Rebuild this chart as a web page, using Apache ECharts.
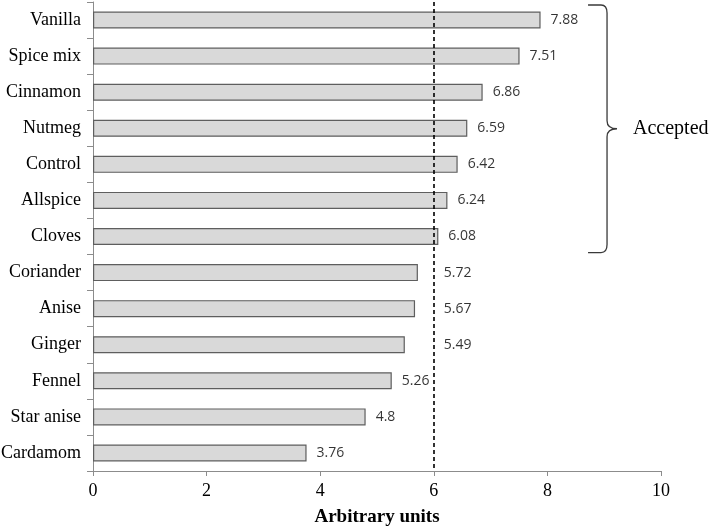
<!DOCTYPE html>
<html>
<head>
<meta charset="utf-8">
<script src="https://cdn.jsdelivr.net/npm/echarts@6/dist/echarts.min.js"></script>
<style>
html, body { margin: 0; padding: 0; background: #fff; }
#main { width: 709px; height: 528px; }
</style>
</head>
<body>
<div id="main"></div>
<script>
// 类别 (top to bottom)
var categories = ['Vanilla', 'Spice mix', 'Cinnamon', 'Nutmeg', 'Control', 'Allspice', 'Cloves',
    'Coriander', 'Anise', 'Ginger', 'Fennel', 'Star anise', 'Cardamom'];
var values = [7.88, 7.51, 6.86, 6.59, 6.42, 6.24, 6.08, 5.72, 5.67, 5.49, 5.26, 4.8, 3.76];
var xTicks = [0, 2, 4, 6, 8, 10];
var cutoff = 6;
var acceptedFrom = 'Vanilla';
var acceptedTo = 'Cloves';
var acceptedText = 'Accepted';

var myChart = echarts.init(document.getElementById('main'));

// labels that would hit the dashed line are moved just past it
var labelData = [];
for (var i = 0; i < values.length; i++) {
    var lx = values[i];
    if (lx < cutoff && lx > cutoff - 0.6) lx = cutoff;
    labelData.push([lx, categories[i]]);
}

var braceData = [[9.05, categories.indexOf(acceptedFrom), categories.indexOf(acceptedTo)]];

function renderBrace(params, api) {
    var top = api.coord([api.value(0), api.value(1)]);
    var bot = api.coord([api.value(0), api.value(2)]);
    var half = api.size([0, 1])[1] / 2;
    var x1 = top[0];
    var t = top[1] - half + 3;
    var b = bot[1] + half - 2;
    var m = (t + b) / 2;
    var x0 = x1 - 19;
    var x2 = x1 + 10;
    var r = 8;
    var path = 'M' + x0 + ' ' + t +
        ' L' + (x1 - 6) + ' ' + t +
        ' Q' + x1 + ' ' + t + ' ' + x1 + ' ' + (t + r) +
        ' L' + x1 + ' ' + (m - r) +
        ' Q' + x1 + ' ' + m + ' ' + x2 + ' ' + m +
        ' Q' + x1 + ' ' + m + ' ' + x1 + ' ' + (m + r) +
        ' L' + x1 + ' ' + (b - r) +
        ' Q' + x1 + ' ' + b + ' ' + (x1 - 6) + ' ' + b +
        ' L' + x0 + ' ' + b;
    return {
        type: 'group',
        children: [
            {
                type: 'path',
                shape: { pathData: path },
                style: { fill: 'none', stroke: '#3a3a3a', lineWidth: 1.3 }
            },
            {
                type: 'text',
                x: x2 + 16,
                y: m,
                style: {
                    text: acceptedText,
                    fill: '#000',
                    font: '20px "Liberation Serif"',
                    verticalAlign: 'middle',
                    align: 'left'
                }
            }
        ]
    };
}

var option = {
    animation: false,
    grid: {
        left: 93,
        right: 48,
        top: 2,
        bottom: 57,
        containLabel: false,
        outerBoundsMode: 'none'
    },
    xAxis: {
        type: 'value',
        min: xTicks[0],
        max: xTicks[xTicks.length - 1],
        interval: xTicks[1] - xTicks[0],
        name: 'Arbitrary units',
        nameLocation: 'middle',
        nameGap: 37,
        nameTextStyle: {
            fontFamily: 'Liberation Serif',
            fontWeight: 'bold',
            fontSize: 19,
            color: '#000'
        },
        splitLine: { show: false },
        axisLine: { show: true, lineStyle: { color: '#8c8c8c', width: 1 } },
        axisTick: { show: true, length: 5, lineStyle: { color: '#8c8c8c' } },
        axisLabel: {
            margin: 11,
            fontFamily: 'Liberation Serif',
            fontSize: 18,
            color: '#000'
        }
    },
    yAxis: {
        type: 'category',
        inverse: true,
        data: categories,
        axisLine: { show: true, lineStyle: { color: '#8c8c8c', width: 1 } },
        axisTick: { show: true, length: 6, lineStyle: { color: '#8c8c8c' } },
        axisLabel: {
            margin: 12,
            fontFamily: 'Liberation Serif',
            fontSize: 18,
            color: '#000'
        }
    },
    series: [
        {
            type: 'bar',
            data: values,
            barWidth: 17,
            itemStyle: {
                color: '#d9d9d9',
                borderColor: '#5e5e5e',
                borderWidth: 1.2
            },
            markLine: {
                silent: true,
                symbol: 'none',
                label: { show: false },
                lineStyle: { color: '#000', type: [4, 3], width: 1.6 },
                data: [{ xAxis: cutoff }]
            }
        },
        {
            type: 'scatter',
            data: labelData,
            symbolSize: 0,
            silent: true,
            label: {
                show: true,
                position: 'right',
                distance: 10,
                fontFamily: 'Open Sans',
                fontSize: 14,
                color: '#000',
                formatter: function (p) { return String(values[p.dataIndex]); }
            }
        },
        {
            type: 'custom',
            data: braceData,
            clip: false,
            silent: true,
            renderItem: renderBrace
        }
    ]
};
myChart.setOption(option);
</script>
</body>
</html>
